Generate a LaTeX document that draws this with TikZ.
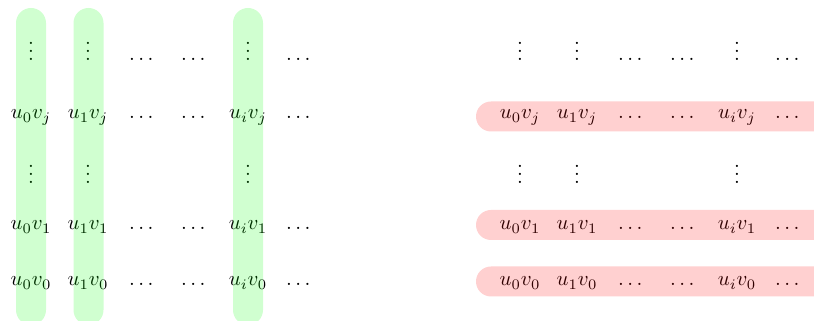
\documentclass[tikz,border=0pt]{standalone}
\usepackage{amsmath}
\begin{document}
\begin{tikzpicture}[x=0.48pt,y=-0.48pt,
  cell/.style={anchor=base, inner sep=0pt},
  greenband/.style={fill=green, fill opacity=0.185, rounded corners=7.2pt},
  redband/.style={fill=red, fill opacity=0.185, rounded corners=7.2pt}]
\useasboundingbox (0,0) rectangle (814,321);
\clip (0,0) rectangle (814,321);
% two copies of the product grid u_i v_j
\foreach \m/\dx in {L/0,R/489}{
  \foreach \r/\y/\a/\b/\e in {1/61/\vdots/\vdots/\vdots,
                              2/119/u_0v_j/u_1v_j/u_iv_j,
                              3/184/\vdots/\vdots/\vdots,
                              4/230/u_0v_1/u_1v_1/u_iv_1,
                              5/286/u_0v_0/u_1v_0/u_iv_0}{
    \node[cell] (\m-\r-1) at (31+\dx,\y) {$\a$};
    \node[cell] (\m-\r-2) at (88+\dx,\y) {$\b$};
    \node[cell] (\m-\r-5) at (248+\dx,\y) {$\e$};
  }
  \foreach \r/\y in {1/61,2/119,4/230,5/286}{
    \foreach \c/\x in {3/143,4/195,6/300}{
      \node[cell] (\m-\r-\c) at (\x+\dx,\y) {$\dots$};
    }
  }
}
% columns of the left grid
\foreach \x in {31,88.5,248}{
  \path[greenband] (\x-15,8) rectangle (\x+15,325);
}
% rows of the right grid
\foreach \y in {116.5,225,281.5}{
  \path[redband] (476,\y-15) rectangle (840,\y+15);
}
\end{tikzpicture}
\end{document}
